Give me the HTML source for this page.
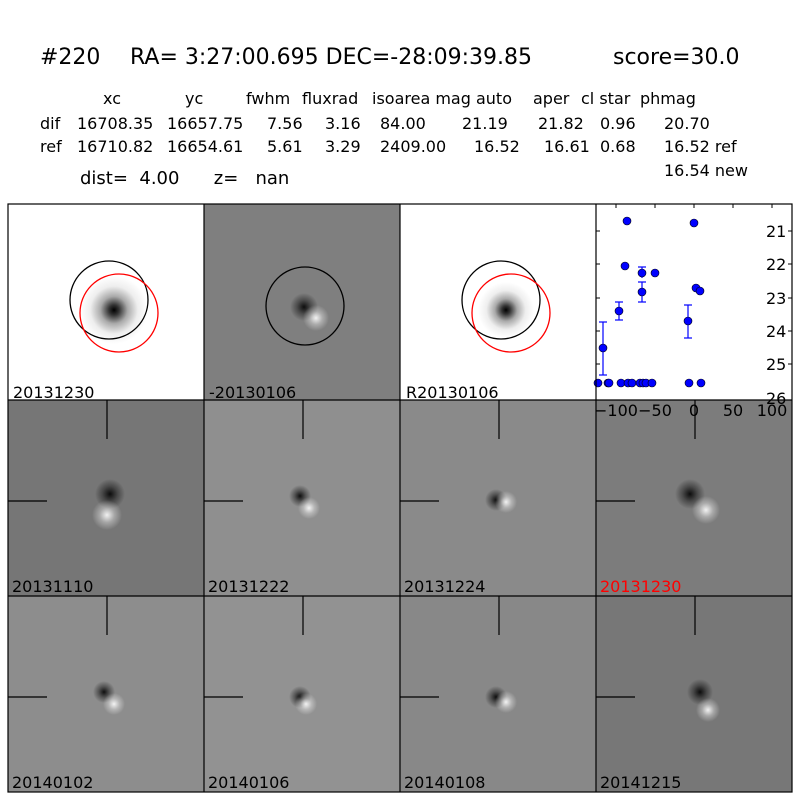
<!DOCTYPE html>
<html><head><meta charset="utf-8"><style>
body{margin:0;background:#fff;width:800px;height:800px;overflow:hidden;font-family:"DejaVu Sans","Liberation Sans",sans-serif}
text{white-space:pre}
</style></head><body>
<svg width="800" height="800" xmlns="http://www.w3.org/2000/svg" font-family="DejaVu Sans, Liberation Sans, sans-serif">
<defs>
<radialGradient id="star"><stop offset="0" stop-color="#000"/><stop offset="0.15" stop-color="#333"/><stop offset="0.4" stop-color="#aaa"/><stop offset="0.7" stop-color="#eee"/><stop offset="1" stop-color="#fff"/></radialGradient>
<radialGradient id="dk"><stop offset="0" stop-color="#000" stop-opacity="0.9"/><stop offset="0.5" stop-color="#000" stop-opacity="0.4"/><stop offset="1" stop-color="#000" stop-opacity="0"/></radialGradient>
<radialGradient id="lt"><stop offset="0" stop-color="#fff" stop-opacity="0.9"/><stop offset="0.5" stop-color="#fff" stop-opacity="0.35"/><stop offset="1" stop-color="#fff" stop-opacity="0"/></radialGradient>
</defs>
<text x="40" y="64" font-size="22">#220</text>
<text x="130" y="64" font-size="22">RA= 3:27:00.695 DEC=-28:09:39.85</text>
<text x="613" y="64" font-size="22">score=30.0</text>
<g font-size="16">
<text x="103" y="104">xc</text><text x="185" y="104">yc</text><text x="246" y="104">fwhm</text><text x="302" y="104">fluxrad</text><text x="372" y="104">isoarea mag auto</text><text x="533" y="104">aper</text><text x="581" y="104">cl star</text><text x="640" y="104">phmag</text>
<text x="40" y="129">dif</text><text x="77" y="129">16708.35</text><text x="167" y="129">16657.75</text><text x="267" y="129">7.56</text><text x="325" y="129">3.16</text><text x="380" y="129">84.00</text><text x="462" y="129">21.19</text><text x="538" y="129">21.82</text><text x="600" y="129">0.96</text><text x="664" y="129">20.70</text>
<text x="40" y="152">ref</text><text x="77" y="152">16710.82</text><text x="167" y="152">16654.61</text><text x="267" y="152">5.61</text><text x="325" y="152">3.29</text><text x="380" y="152">2409.00</text><text x="474" y="152">16.52</text><text x="544" y="152">16.61</text><text x="600" y="152">0.68</text><text x="664" y="152">16.52 ref</text>
<text x="664" y="176">16.54 new</text>
</g>
<text x="80" y="184" font-size="18">dist=  4.00      z=   nan</text>

<rect x="8" y="204" width="196" height="196" fill="#fff"/>
<circle cx="114" cy="310" r="34" fill="url(#star)"/>
<circle cx="109" cy="300" r="39" fill="none" stroke="#000" stroke-width="1.3"/>
<circle cx="119" cy="313" r="39" fill="none" stroke="red" stroke-width="1.3"/>
<rect x="204" y="204" width="196" height="196" fill="#7f7f7f"/>
<circle cx="304" cy="307" r="14" fill="url(#dk)"/><circle cx="316" cy="318" r="13" fill="url(#lt)"/>
<circle cx="305" cy="306" r="39" fill="none" stroke="#000" stroke-width="1.3"/>
<rect x="400" y="204" width="196" height="196" fill="#fff"/>
<circle cx="506" cy="310" r="28" fill="url(#star)"/>
<circle cx="501" cy="300" r="39" fill="none" stroke="#000" stroke-width="1.3"/>
<circle cx="511" cy="313" r="39" fill="none" stroke="red" stroke-width="1.3"/>
<g font-size="16"><text x="13" y="398">20131230</text><text x="209" y="398">-20130106</text><text x="406" y="398">R20130106</text></g>

<g>
<rect x="8" y="400" width="196" height="196" fill="#767676"/>
<rect x="204" y="400" width="196" height="196" fill="#8f8f8f"/>
<rect x="400" y="400" width="196" height="196" fill="#8a8a8a"/>
<rect x="596" y="400" width="196" height="196" fill="#7c7c7c"/>
<rect x="8" y="596" width="196" height="196" fill="#8d8d8d"/>
<rect x="204" y="596" width="196" height="196" fill="#929292"/>
<rect x="400" y="596" width="196" height="196" fill="#888"/>
<rect x="596" y="596" width="196" height="196" fill="#777"/>
</g>
<g>
<circle cx="110" cy="494" r="15" fill="url(#dk)"/><circle cx="107" cy="515" r="15" fill="url(#lt)"/>
<circle cx="300" cy="496" r="11" fill="url(#dk)"/><circle cx="309" cy="508" r="11" fill="url(#lt)"/>
<circle cx="496" cy="500" r="11" fill="url(#dk)"/><circle cx="506" cy="502" r="11" fill="url(#lt)"/>
<circle cx="690" cy="494" r="15" fill="url(#dk)"/><circle cx="706" cy="510" r="14" fill="url(#lt)"/>
<circle cx="104" cy="692" r="11" fill="url(#dk)"/><circle cx="114" cy="704" r="11" fill="url(#lt)"/>
<circle cx="300" cy="697" r="11" fill="url(#dk)"/><circle cx="306" cy="704" r="11" fill="url(#lt)"/>
<circle cx="496" cy="697" r="11" fill="url(#dk)"/><circle cx="506" cy="702" r="11" fill="url(#lt)"/>
<circle cx="700" cy="692" r="13" fill="url(#dk)"/><circle cx="708" cy="710" r="12" fill="url(#lt)"/>
</g>
<g stroke="#000" stroke-width="1.2">
<line x1="107" y1="400" x2="107" y2="439"/><line x1="8" y1="501" x2="47" y2="501"/>
<line x1="303" y1="400" x2="303" y2="439"/><line x1="204" y1="501" x2="243" y2="501"/>
<line x1="499" y1="400" x2="499" y2="439"/><line x1="400" y1="501" x2="439" y2="501"/>
<line x1="695" y1="400" x2="695" y2="439"/><line x1="596" y1="501" x2="635" y2="501"/>
<line x1="107" y1="596" x2="107" y2="635"/><line x1="8" y1="697" x2="47" y2="697"/>
<line x1="303" y1="596" x2="303" y2="635"/><line x1="204" y1="697" x2="243" y2="697"/>
<line x1="499" y1="596" x2="499" y2="635"/><line x1="400" y1="697" x2="439" y2="697"/>
<line x1="695" y1="596" x2="695" y2="635"/><line x1="596" y1="697" x2="635" y2="697"/>
</g>
<g font-size="16">
<text x="12" y="592">20131110</text><text x="208" y="592">20131222</text><text x="404" y="592">20131224</text><text x="600" y="592" fill="red">20131230</text>
<text x="12" y="788">20140102</text><text x="208" y="788">20140106</text><text x="404" y="788">20140108</text><text x="600" y="788">20141215</text>
</g>
<rect x="596" y="204" width="196" height="196" fill="#fff"/>
<g stroke="#000" stroke-width="1">
<line x1="596" y1="231" x2="600" y2="231"/><line x1="596" y1="264" x2="600" y2="264"/><line x1="596" y1="298" x2="600" y2="298"/><line x1="596" y1="331" x2="600" y2="331"/><line x1="596" y1="364" x2="600" y2="364"/>
<line x1="792" y1="231" x2="788" y2="231"/><line x1="792" y1="264" x2="788" y2="264"/><line x1="792" y1="298" x2="788" y2="298"/><line x1="792" y1="331" x2="788" y2="331"/><line x1="792" y1="364" x2="788" y2="364"/>
<line x1="616" y1="204" x2="616" y2="208"/><line x1="655" y1="204" x2="655" y2="208"/><line x1="694" y1="204" x2="694" y2="208"/><line x1="733" y1="204" x2="733" y2="208"/><line x1="772" y1="204" x2="772" y2="208"/>
</g>
<g stroke="blue" stroke-width="1.2">
<line x1="603" y1="322" x2="603" y2="375"/><line x1="599" y1="322" x2="607" y2="322"/><line x1="599" y1="375" x2="607" y2="375"/>
<line x1="619" y1="302" x2="619" y2="320"/><line x1="615" y1="302" x2="623" y2="302"/><line x1="615" y1="320" x2="623" y2="320"/>
<line x1="642" y1="267" x2="642" y2="278"/><line x1="638" y1="267" x2="646" y2="267"/>
<line x1="642" y1="282" x2="642" y2="302"/><line x1="638" y1="282" x2="646" y2="282"/><line x1="638" y1="302" x2="646" y2="302"/>
<line x1="688" y1="305" x2="688" y2="338"/><line x1="684" y1="305" x2="692" y2="305"/><line x1="684" y1="338" x2="692" y2="338"/>
</g>
<g fill="blue" stroke="#000" stroke-width="0.6">
<circle cx="598" cy="383" r="4"/><circle cx="608" cy="383" r="4"/><circle cx="609" cy="383" r="4"/><circle cx="621" cy="383" r="4"/><circle cx="628" cy="383" r="4"/><circle cx="632" cy="383" r="4"/><circle cx="640" cy="383" r="4"/><circle cx="643" cy="383" r="4"/><circle cx="646" cy="383" r="4"/><circle cx="652" cy="383" r="4"/><circle cx="689" cy="383" r="4"/><circle cx="701" cy="383" r="4"/>
<circle cx="603" cy="348" r="4"/><circle cx="619" cy="311" r="4"/><circle cx="627" cy="221" r="4"/><circle cx="625" cy="266" r="4"/><circle cx="642" cy="273" r="4"/><circle cx="642" cy="292" r="4"/><circle cx="655" cy="273" r="4"/><circle cx="688" cy="321" r="4"/><circle cx="694" cy="223" r="4"/><circle cx="696" cy="288" r="4"/><circle cx="700" cy="291" r="4"/>
</g>
<g font-size="16">
<text x="766" y="237">21</text><text x="766" y="270">22</text><text x="766" y="304">23</text><text x="766" y="337">24</text><text x="766" y="370">25</text><text x="766" y="404">26</text>
</g>
<g fill="none" stroke="#000" stroke-width="1.2">
<rect x="8" y="204" width="784" height="588"/>
<line x1="204" y1="204" x2="204" y2="792"/><line x1="400" y1="204" x2="400" y2="792"/><line x1="596" y1="204" x2="596" y2="792"/>
<line x1="8" y1="400" x2="792" y2="400"/><line x1="8" y1="596" x2="792" y2="596"/>
</g>
<g font-size="16" text-anchor="middle">
<text x="616" y="416">−100</text><text x="655" y="416">−50</text><text x="694" y="416">0</text><text x="733" y="416">50</text><text x="772" y="416">100</text>
</g>
</svg>
</body></html>
